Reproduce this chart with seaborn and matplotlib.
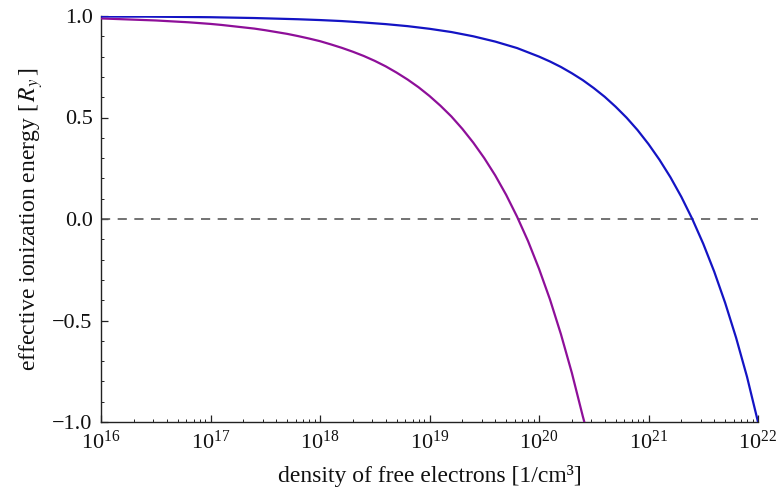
import numpy as np
import pandas as pd
import matplotlib
matplotlib.use("Agg")
import matplotlib.pyplot as plt
import matplotlib.ticker as mticker
import seaborn as sns

# ---- data (x as log10 of density) ----
purple_log_n = [16.0, 16.1, 16.2, 16.3, 16.4, 16.5, 16.6, 16.7, 16.8, 16.9,
                17.0, 17.1, 17.2, 17.3, 17.4, 17.5, 17.6, 17.7, 17.8, 17.9,
                18.0, 18.1, 18.2, 18.3, 18.4, 18.5, 18.6, 18.7, 18.8, 18.9,
                19.0, 19.1, 19.2, 19.3, 19.4, 19.5, 19.6, 19.7, 19.8, 19.9,
                20.0, 20.1, 20.2, 20.3, 20.4, 20.414]
purple_energy = [0.988, 0.986, 0.984, 0.982, 0.980, 0.978, 0.975, 0.972, 0.969, 0.965,
                 0.961, 0.956, 0.950, 0.944, 0.938, 0.930, 0.921, 0.912, 0.901, 0.889,
                 0.876, 0.860, 0.843, 0.824, 0.803, 0.779, 0.752, 0.721, 0.687, 0.649,
                 0.606, 0.558, 0.505, 0.444, 0.376, 0.300, 0.215, 0.119, 0.011, -0.109,
                 -0.245, -0.396, -0.567, -0.758, -0.972, -1.0]

blue_log_n = [16.0, 16.2, 16.4, 16.6, 16.8, 17.0, 17.2, 17.4, 17.6, 17.8,
              18.0, 18.2, 18.4, 18.6, 18.8, 19.0, 19.2, 19.4, 19.6, 19.8,
              20.0, 20.1, 20.2, 20.3, 20.4, 20.5, 20.6, 20.7, 20.8, 20.9,
              21.0, 21.1, 21.2, 21.3, 21.4, 21.5, 21.6, 21.7, 21.8, 21.9, 22.0]
blue_energy = [0.998, 0.997, 0.997, 0.996, 0.995, 0.994, 0.992, 0.990, 0.987, 0.984,
               0.980, 0.975, 0.968, 0.960, 0.950, 0.937, 0.921, 0.900, 0.874, 0.842,
               0.800, 0.776, 0.749, 0.718, 0.684, 0.645, 0.602, 0.553, 0.499, 0.438,
               0.369, 0.292, 0.206, 0.109, 0.0, -0.122, -0.259, -0.413, -0.585, -0.778, -1.0]

x_major_exps = [16, 17, 18, 19, 20, 21, 22]
y_major = [-1.0, -0.5, 0.0, 0.5, 1.0]

purple_color = "#8E0F99"
blue_color = "#1414C4"

# ---- style ----
sns.set_style("ticks")
plt.rcParams["font.family"] = ["Liberation Serif", "DejaVu Serif"]
plt.rcParams["mathtext.fontset"] = "stix"

fig = plt.figure(figsize=(7.8, 4.97), dpi=100)
ax = fig.add_axes([101 / 780, 1 - 422 / 497, (758 - 101) / 780, (422 - 16) / 497])

df_p = pd.DataFrame({"n": 10.0 ** np.array(purple_log_n), "E": purple_energy})
df_b = pd.DataFrame({"n": 10.0 ** np.array(blue_log_n), "E": blue_energy})

ax.axhline(0.0, color="#5a5a5a", lw=1.2, ls=(0, (5.5, 4.5)), zorder=1)
sns.lineplot(data=df_p, x="n", y="E", ax=ax, color=purple_color, lw=1.6,
             sort=False, estimator=None, zorder=3)
sns.lineplot(data=df_b, x="n", y="E", ax=ax, color=blue_color, lw=1.6,
             sort=False, estimator=None, zorder=3)

ax.set_xscale("log")
ax.set_xlim(1e16, 1e22)
ax.set_ylim(-1.0, 1.0)

ax.xaxis.set_major_locator(mticker.FixedLocator([10.0 ** e for e in x_major_exps]))
ax.xaxis.set_major_formatter(mticker.LogFormatterMathtext())
ax.xaxis.set_minor_locator(mticker.LogLocator(base=10, subs=np.arange(2, 10), numticks=100))
ax.xaxis.set_minor_formatter(mticker.NullFormatter())

ax.yaxis.set_major_locator(mticker.FixedLocator(y_major))
ax.yaxis.set_minor_locator(mticker.MultipleLocator(0.1))
ax.yaxis.set_major_formatter(mticker.FuncFormatter(lambda v, p: f"{v:.1f}".replace("-", "\u2212")))

for side in ["top", "right"]:
    ax.spines[side].set_visible(False)
for side in ["left", "bottom"]:
    ax.spines[side].set_color("#222222")
    ax.spines[side].set_linewidth(1.0)

ax.tick_params(axis="both", which="major", direction="in", length=5, width=0.9,
               color="#222222", labelcolor="#111111")
ax.tick_params(axis="y", which="major", labelsize=16, pad=6)
ax.tick_params(axis="x", which="major", labelsize=16, pad=6)
ax.tick_params(axis="both", which="minor", direction="in", length=2.5, width=0.7,
               color="#222222")

ax.set_xlabel("density of free electrons [1/cm\u00b3]", fontsize=17, color="#111111", labelpad=8)
ax.set_ylabel(r"effective ionization energy [$\,R_y\,$]", fontsize=17, color="#111111", labelpad=5)

fig.savefig("out.png", dpi=100)
